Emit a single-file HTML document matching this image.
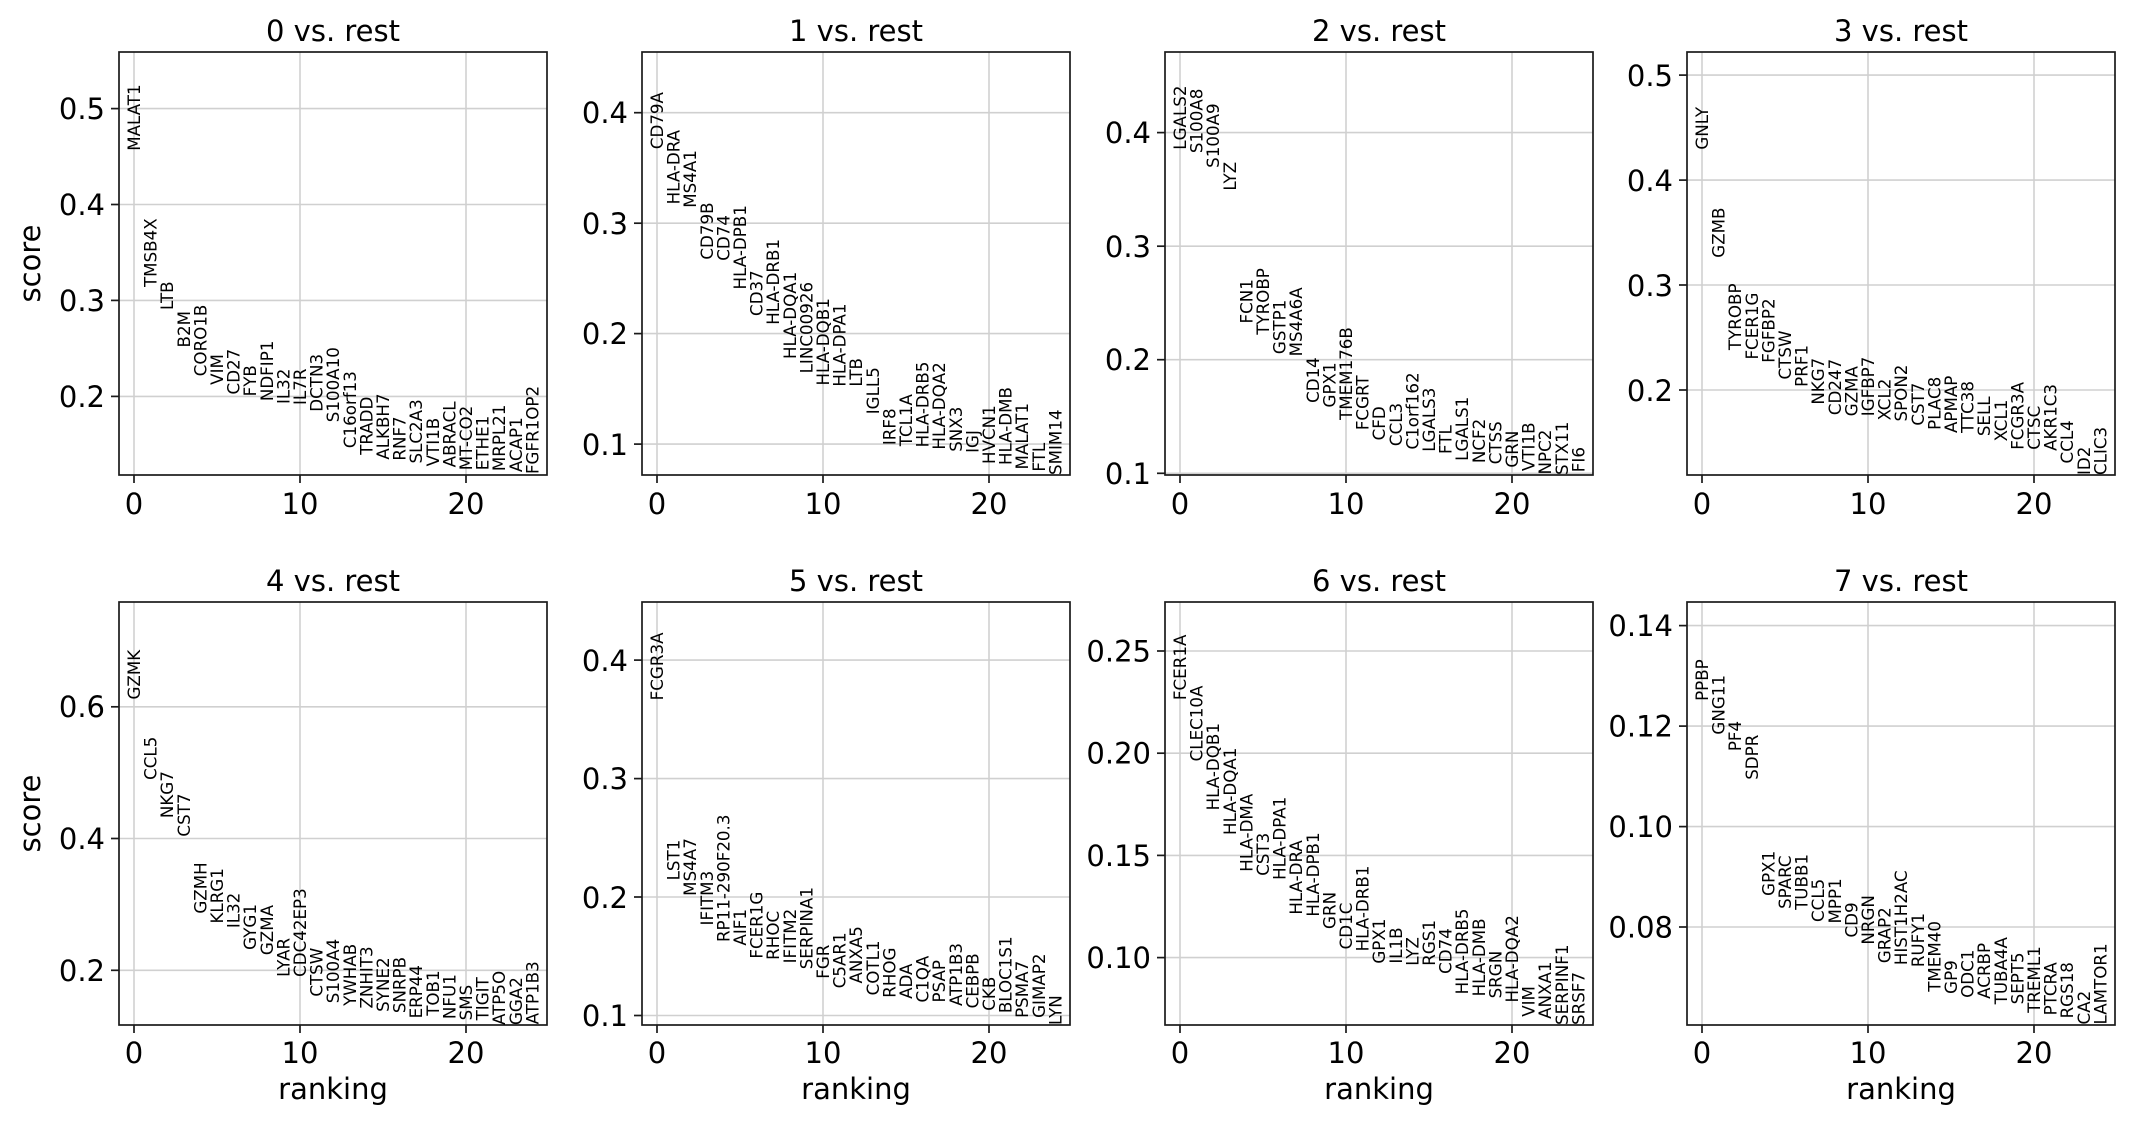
<!DOCTYPE html>
<html><head><meta charset="utf-8"><style>
html,body{margin:0;padding:0;background:#fff}
svg{display:block}
text{font-family:"DejaVu Sans","Liberation Sans",sans-serif;fill:#000}
.g{font-size:16.7px}
.t{font-size:29px}
</style></head><body>
<svg width="2131" height="1123" viewBox="0 0 2131 1123" xmlns="http://www.w3.org/2000/svg">
<defs>
<g id="frame"><rect x="0" y="0" width="428" height="423" fill="none" stroke="#1a1a1a" stroke-width="1.7"/></g>
</defs>

<!-- ===== Panel 0 ===== -->
<g transform="translate(119,52)">
<g stroke="#d0d0d0" stroke-width="1.6">
<line x1="15" y1="0" x2="15" y2="423"/><line x1="181" y1="0" x2="181" y2="423"/><line x1="347" y1="0" x2="347" y2="423"/>
<line x1="0" y1="56.6" x2="428" y2="56.6"/><line x1="0" y1="152.5" x2="428" y2="152.5"/><line x1="0" y1="248.4" x2="428" y2="248.4"/><line x1="0" y1="344.4" x2="428" y2="344.4"/>
</g>
<use href="#frame"/>
<g stroke="#1a1a1a" stroke-width="1.7">
<line x1="15" y1="423" x2="15" y2="431"/><line x1="181" y1="423" x2="181" y2="431"/><line x1="347" y1="423" x2="347" y2="431"/>
<line x1="0" y1="56.6" x2="-8" y2="56.6"/><line x1="0" y1="152.5" x2="-8" y2="152.5"/><line x1="0" y1="248.4" x2="-8" y2="248.4"/><line x1="0" y1="344.4" x2="-8" y2="344.4"/>
</g>
<g class="t" text-anchor="end"><text x="-14" y="67">0.5</text><text x="-14" y="163">0.4</text><text x="-14" y="259">0.3</text><text x="-14" y="355">0.2</text></g>
<g class="t" text-anchor="middle"><text x="15" y="462">0</text><text x="181" y="462">10</text><text x="347" y="462">20</text><text x="214" y="-11">0 vs. rest</text></g>
</g>
<g transform="translate(134,588.2) scale(1,-959.2)" class="g">
<text transform="translate(0,0.456) scale(1,-0.0010425) rotate(-90)" y="6">MALAT1</text>
<text transform="translate(16.6,0.314) scale(1,-0.0010425) rotate(-90)" y="6">TMSB4X</text>
<text transform="translate(33.2,0.290) scale(1,-0.0010425) rotate(-90)" y="6">LTB</text>
<text transform="translate(49.8,0.251) scale(1,-0.0010425) rotate(-90)" y="6">B2M</text>
<text transform="translate(66.4,0.221) scale(1,-0.0010425) rotate(-90)" y="6">CORO1B</text>
<text transform="translate(83,0.212) scale(1,-0.0010425) rotate(-90)" y="6">VIM</text>
<text transform="translate(99.6,0.202) scale(1,-0.0010425) rotate(-90)" y="6">CD27</text>
<text transform="translate(116.2,0.200) scale(1,-0.0010425) rotate(-90)" y="6">FYB</text>
<text transform="translate(132.8,0.195) scale(1,-0.0010425) rotate(-90)" y="6">NDFIP1</text>
<text transform="translate(149.4,0.192) scale(1,-0.0010425) rotate(-90)" y="6">IL32</text>
<text transform="translate(166,0.191) scale(1,-0.0010425) rotate(-90)" y="6">IL7R</text>
<text transform="translate(182.6,0.184) scale(1,-0.0010425) rotate(-90)" y="6">DCTN3</text>
<text transform="translate(199.2,0.173) scale(1,-0.0010425) rotate(-90)" y="6">S100A10</text>
<text transform="translate(215.8,0.146) scale(1,-0.0010425) rotate(-90)" y="6">C16orf13</text>
<text transform="translate(232.4,0.139) scale(1,-0.0010425) rotate(-90)" y="6">TRADD</text>
<text transform="translate(249,0.134) scale(1,-0.0010425) rotate(-90)" y="6">ALKBH7</text>
<text transform="translate(265.6,0.133) scale(1,-0.0010425) rotate(-90)" y="6">RNF7</text>
<text transform="translate(282.2,0.130) scale(1,-0.0010425) rotate(-90)" y="6">SLC2A3</text>
<text transform="translate(298.8,0.127) scale(1,-0.0010425) rotate(-90)" y="6">VTI1B</text>
<text transform="translate(315.4,0.126) scale(1,-0.0010425) rotate(-90)" y="6">ABRACL</text>
<text transform="translate(332,0.123) scale(1,-0.0010425) rotate(-90)" y="6">MT-CO2</text>
<text transform="translate(348.6,0.123) scale(1,-0.0010425) rotate(-90)" y="6">ETHE1</text>
<text transform="translate(365.2,0.122) scale(1,-0.0010425) rotate(-90)" y="6">MRPL21</text>
<text transform="translate(381.8,0.121) scale(1,-0.0010425) rotate(-90)" y="6">ACAP1</text>
<text transform="translate(398.4,0.119) scale(1,-0.0010425) rotate(-90)" y="6">FGFR1OP2</text>
</g>

<!-- ===== Panel 1 ===== -->
<g transform="translate(642,52)">
<g stroke="#d0d0d0" stroke-width="1.6">
<line x1="15" y1="0" x2="15" y2="423"/><line x1="181" y1="0" x2="181" y2="423"/><line x1="347" y1="0" x2="347" y2="423"/>
<line x1="0" y1="60.7" x2="428" y2="60.7"/><line x1="0" y1="171.2" x2="428" y2="171.2"/><line x1="0" y1="281.6" x2="428" y2="281.6"/><line x1="0" y1="392.1" x2="428" y2="392.1"/>
</g>
<use href="#frame"/>
<g stroke="#1a1a1a" stroke-width="1.7">
<line x1="15" y1="423" x2="15" y2="431"/><line x1="181" y1="423" x2="181" y2="431"/><line x1="347" y1="423" x2="347" y2="431"/>
<line x1="0" y1="60.7" x2="-8" y2="60.7"/><line x1="0" y1="171.2" x2="-8" y2="171.2"/><line x1="0" y1="281.6" x2="-8" y2="281.6"/><line x1="0" y1="392.1" x2="-8" y2="392.1"/>
</g>
<g class="t" text-anchor="end"><text x="-14" y="71">0.4</text><text x="-14" y="182">0.3</text><text x="-14" y="292">0.2</text><text x="-14" y="403">0.1</text></g>
<g class="t" text-anchor="middle"><text x="15" y="462">0</text><text x="181" y="462">10</text><text x="347" y="462">20</text><text x="214" y="-11">1 vs. rest</text></g>
</g>
<g transform="translate(657,554.5) scale(1,-1104.4)" class="g">
<text transform="translate(0,0.367) scale(1,-0.0009054) rotate(-90)" y="6">CD79A</text>
<text transform="translate(16.6,0.317) scale(1,-0.0009054) rotate(-90)" y="6">HLA-DRA</text>
<text transform="translate(33.2,0.314) scale(1,-0.0009054) rotate(-90)" y="6">MS4A1</text>
<text transform="translate(49.8,0.267) scale(1,-0.0009054) rotate(-90)" y="6">CD79B</text>
<text transform="translate(66.4,0.266) scale(1,-0.0009054) rotate(-90)" y="6">CD74</text>
<text transform="translate(83,0.240) scale(1,-0.0009054) rotate(-90)" y="6">HLA-DPB1</text>
<text transform="translate(99.6,0.216) scale(1,-0.0009054) rotate(-90)" y="6">CD37</text>
<text transform="translate(116.2,0.208) scale(1,-0.0009054) rotate(-90)" y="6">HLA-DRB1</text>
<text transform="translate(132.8,0.177) scale(1,-0.0009054) rotate(-90)" y="6">HLA-DQA1</text>
<text transform="translate(149.4,0.164) scale(1,-0.0009054) rotate(-90)" y="6">LINC00926</text>
<text transform="translate(166,0.153) scale(1,-0.0009054) rotate(-90)" y="6">HLA-DQB1</text>
<text transform="translate(182.6,0.152) scale(1,-0.0009054) rotate(-90)" y="6">HLA-DPA1</text>
<text transform="translate(199.2,0.152) scale(1,-0.0009054) rotate(-90)" y="6">LTB</text>
<text transform="translate(215.8,0.127) scale(1,-0.0009054) rotate(-90)" y="6">IGLL5</text>
<text transform="translate(232.4,0.099) scale(1,-0.0009054) rotate(-90)" y="6">IRF8</text>
<text transform="translate(249,0.098) scale(1,-0.0009054) rotate(-90)" y="6">TCL1A</text>
<text transform="translate(265.6,0.097) scale(1,-0.0009054) rotate(-90)" y="6">HLA-DRB5</text>
<text transform="translate(282.2,0.095) scale(1,-0.0009054) rotate(-90)" y="6">HLA-DQA2</text>
<text transform="translate(298.8,0.093) scale(1,-0.0009054) rotate(-90)" y="6">SNX3</text>
<text transform="translate(315.4,0.092) scale(1,-0.0009054) rotate(-90)" y="6">IGJ</text>
<text transform="translate(332,0.082) scale(1,-0.0009054) rotate(-90)" y="6">HVCN1</text>
<text transform="translate(348.6,0.081) scale(1,-0.0009054) rotate(-90)" y="6">HLA-DMB</text>
<text transform="translate(365.2,0.077) scale(1,-0.0009054) rotate(-90)" y="6">MALAT1</text>
<text transform="translate(381.8,0.075) scale(1,-0.0009054) rotate(-90)" y="6">FTL</text>
<text transform="translate(398.4,0.072) scale(1,-0.0009054) rotate(-90)" y="6">SMIM14</text>
</g>

<!-- ===== Panel 2 ===== -->
<g transform="translate(1165,52)">
<g stroke="#d0d0d0" stroke-width="1.6">
<line x1="15" y1="0" x2="15" y2="423"/><line x1="181" y1="0" x2="181" y2="423"/><line x1="347" y1="0" x2="347" y2="423"/>
<line x1="0" y1="80.6" x2="428" y2="80.6"/><line x1="0" y1="194.2" x2="428" y2="194.2"/><line x1="0" y1="307.7" x2="428" y2="307.7"/><line x1="0" y1="421.3" x2="428" y2="421.3"/>
</g>
<use href="#frame"/>
<g stroke="#1a1a1a" stroke-width="1.7">
<line x1="15" y1="423" x2="15" y2="431"/><line x1="181" y1="423" x2="181" y2="431"/><line x1="347" y1="423" x2="347" y2="431"/>
<line x1="0" y1="80.6" x2="-8" y2="80.6"/><line x1="0" y1="194.2" x2="-8" y2="194.2"/><line x1="0" y1="307.7" x2="-8" y2="307.7"/><line x1="0" y1="421.3" x2="-8" y2="421.3"/>
</g>
<g class="t" text-anchor="end"><text x="-14" y="91">0.4</text><text x="-14" y="205">0.3</text><text x="-14" y="318">0.2</text><text x="-14" y="432">0.1</text></g>
<g class="t" text-anchor="middle"><text x="15" y="462">0</text><text x="181" y="462">10</text><text x="347" y="462">20</text><text x="214" y="-11">2 vs. rest</text></g>
</g>
<g transform="translate(1180,586.9) scale(1,-1135.6)" class="g">
<text transform="translate(0,0.385) scale(1,-0.0008806) rotate(-90)" y="6">LGALS2</text>
<text transform="translate(16.6,0.382) scale(1,-0.0008806) rotate(-90)" y="6">S100A8</text>
<text transform="translate(33.2,0.369) scale(1,-0.0008806) rotate(-90)" y="6">S100A9</text>
<text transform="translate(49.8,0.349) scale(1,-0.0008806) rotate(-90)" y="6">LYZ</text>
<text transform="translate(66.4,0.232) scale(1,-0.0008806) rotate(-90)" y="6">FCN1</text>
<text transform="translate(83,0.222) scale(1,-0.0008806) rotate(-90)" y="6">TYROBP</text>
<text transform="translate(99.6,0.205) scale(1,-0.0008806) rotate(-90)" y="6">GSTP1</text>
<text transform="translate(116.2,0.203) scale(1,-0.0008806) rotate(-90)" y="6">MS4A6A</text>
<text transform="translate(132.8,0.162) scale(1,-0.0008806) rotate(-90)" y="6">CD14</text>
<text transform="translate(149.4,0.158) scale(1,-0.0008806) rotate(-90)" y="6">GPX1</text>
<text transform="translate(166,0.147) scale(1,-0.0008806) rotate(-90)" y="6">TMEM176B</text>
<text transform="translate(182.6,0.138) scale(1,-0.0008806) rotate(-90)" y="6">FCGRT</text>
<text transform="translate(199.2,0.129) scale(1,-0.0008806) rotate(-90)" y="6">CFD</text>
<text transform="translate(215.8,0.124) scale(1,-0.0008806) rotate(-90)" y="6">CCL3</text>
<text transform="translate(232.4,0.121) scale(1,-0.0008806) rotate(-90)" y="6">C1orf162</text>
<text transform="translate(249,0.119) scale(1,-0.0008806) rotate(-90)" y="6">LGALS3</text>
<text transform="translate(265.6,0.117) scale(1,-0.0008806) rotate(-90)" y="6">FTL</text>
<text transform="translate(282.2,0.111) scale(1,-0.0008806) rotate(-90)" y="6">LGALS1</text>
<text transform="translate(298.8,0.109) scale(1,-0.0008806) rotate(-90)" y="6">NCF2</text>
<text transform="translate(315.4,0.108) scale(1,-0.0008806) rotate(-90)" y="6">CTSS</text>
<text transform="translate(332,0.105) scale(1,-0.0008806) rotate(-90)" y="6">GRN</text>
<text transform="translate(348.6,0.102) scale(1,-0.0008806) rotate(-90)" y="6">VTI1B</text>
<text transform="translate(365.2,0.099) scale(1,-0.0008806) rotate(-90)" y="6">NPC2</text>
<text transform="translate(381.8,0.0985) scale(1,-0.0008806) rotate(-90)" y="6">STX11</text>
<text transform="translate(398.4,0.101) scale(1,-0.0008806) rotate(-90)" y="6">FI6</text>
</g>

<!-- ===== Panel 3 ===== -->
<g transform="translate(1687,52)">
<g stroke="#d0d0d0" stroke-width="1.6">
<line x1="15" y1="0" x2="15" y2="423"/><line x1="181" y1="0" x2="181" y2="423"/><line x1="347" y1="0" x2="347" y2="423"/>
<line x1="0" y1="23.1" x2="428" y2="23.1"/><line x1="0" y1="128.1" x2="428" y2="128.1"/><line x1="0" y1="233" x2="428" y2="233"/><line x1="0" y1="338" x2="428" y2="338"/>
</g>
<use href="#frame"/>
<g stroke="#1a1a1a" stroke-width="1.7">
<line x1="15" y1="423" x2="15" y2="431"/><line x1="181" y1="423" x2="181" y2="431"/><line x1="347" y1="423" x2="347" y2="431"/>
<line x1="0" y1="23.1" x2="-8" y2="23.1"/><line x1="0" y1="128.1" x2="-8" y2="128.1"/><line x1="0" y1="233" x2="-8" y2="233"/><line x1="0" y1="338" x2="-8" y2="338"/>
</g>
<g class="t" text-anchor="end"><text x="-14" y="34">0.5</text><text x="-14" y="139">0.4</text><text x="-14" y="244">0.3</text><text x="-14" y="349">0.2</text></g>
<g class="t" text-anchor="middle"><text x="15" y="462">0</text><text x="181" y="462">10</text><text x="347" y="462">20</text><text x="214" y="-11">3 vs. rest</text></g>
</g>
<g transform="translate(1702,599.9) scale(1,-1049.6)" class="g">
<text transform="translate(0,0.429) scale(1,-0.0009527) rotate(-90)" y="6">GNLY</text>
<text transform="translate(16.6,0.326) scale(1,-0.0009527) rotate(-90)" y="6">GZMB</text>
<text transform="translate(33.2,0.238) scale(1,-0.0009527) rotate(-90)" y="6">TYROBP</text>
<text transform="translate(49.8,0.229) scale(1,-0.0009527) rotate(-90)" y="6">FCER1G</text>
<text transform="translate(66.4,0.226) scale(1,-0.0009527) rotate(-90)" y="6">FGFBP2</text>
<text transform="translate(83,0.210) scale(1,-0.0009527) rotate(-90)" y="6">CTSW</text>
<text transform="translate(99.6,0.203) scale(1,-0.0009527) rotate(-90)" y="6">PRF1</text>
<text transform="translate(116.2,0.186) scale(1,-0.0009527) rotate(-90)" y="6">NKG7</text>
<text transform="translate(132.8,0.176) scale(1,-0.0009527) rotate(-90)" y="6">CD247</text>
<text transform="translate(149.4,0.175) scale(1,-0.0009527) rotate(-90)" y="6">GZMA</text>
<text transform="translate(166,0.175) scale(1,-0.0009527) rotate(-90)" y="6">IGFBP7</text>
<text transform="translate(182.6,0.171) scale(1,-0.0009527) rotate(-90)" y="6">XCL2</text>
<text transform="translate(199.2,0.170) scale(1,-0.0009527) rotate(-90)" y="6">SPON2</text>
<text transform="translate(215.8,0.166) scale(1,-0.0009527) rotate(-90)" y="6">CST7</text>
<text transform="translate(232.4,0.162) scale(1,-0.0009527) rotate(-90)" y="6">PLAC8</text>
<text transform="translate(249,0.159) scale(1,-0.0009527) rotate(-90)" y="6">APMAP</text>
<text transform="translate(265.6,0.159) scale(1,-0.0009527) rotate(-90)" y="6">TTC38</text>
<text transform="translate(282.2,0.156) scale(1,-0.0009527) rotate(-90)" y="6">SELL</text>
<text transform="translate(298.8,0.151) scale(1,-0.0009527) rotate(-90)" y="6">XCL1</text>
<text transform="translate(315.4,0.143) scale(1,-0.0009527) rotate(-90)" y="6">FCGR3A</text>
<text transform="translate(332,0.143) scale(1,-0.0009527) rotate(-90)" y="6">CTSC</text>
<text transform="translate(348.6,0.142) scale(1,-0.0009527) rotate(-90)" y="6">AKR1C3</text>
<text transform="translate(365.2,0.130) scale(1,-0.0009527) rotate(-90)" y="6">CCL4</text>
<text transform="translate(381.8,0.119) scale(1,-0.0009527) rotate(-90)" y="6">ID2</text>
<text transform="translate(398.4,0.119) scale(1,-0.0009527) rotate(-90)" y="6">CLIC3</text>
</g>

<!-- ===== Panel 4 ===== -->
<g transform="translate(119,602)">
<g stroke="#d0d0d0" stroke-width="1.6">
<line x1="15" y1="0" x2="15" y2="423"/><line x1="181" y1="0" x2="181" y2="423"/><line x1="347" y1="0" x2="347" y2="423"/>
<line x1="0" y1="104.8" x2="428" y2="104.8"/><line x1="0" y1="236.5" x2="428" y2="236.5"/><line x1="0" y1="368.3" x2="428" y2="368.3"/>
</g>
<use href="#frame"/>
<g stroke="#1a1a1a" stroke-width="1.7">
<line x1="15" y1="423" x2="15" y2="431"/><line x1="181" y1="423" x2="181" y2="431"/><line x1="347" y1="423" x2="347" y2="431"/>
<line x1="0" y1="104.8" x2="-8" y2="104.8"/><line x1="0" y1="236.5" x2="-8" y2="236.5"/><line x1="0" y1="368.3" x2="-8" y2="368.3"/>
</g>
<g class="t" text-anchor="end"><text x="-14" y="115">0.6</text><text x="-14" y="247">0.4</text><text x="-14" y="379">0.2</text></g>
<g class="t" text-anchor="middle"><text x="15" y="461">0</text><text x="181" y="461">10</text><text x="347" y="461">20</text><text x="214" y="-11">4 vs. rest</text><text x="214" y="497">ranking</text></g>
</g>
<g transform="translate(134,1102.1) scale(1,-658.9)" class="g">
<text transform="translate(0,0.611) scale(1,-0.0015177) rotate(-90)" y="6">GZMK</text>
<text transform="translate(16.6,0.489) scale(1,-0.0015177) rotate(-90)" y="6">CCL5</text>
<text transform="translate(33.2,0.431) scale(1,-0.0015177) rotate(-90)" y="6">NKG7</text>
<text transform="translate(49.8,0.403) scale(1,-0.0015177) rotate(-90)" y="6">CST7</text>
<text transform="translate(66.4,0.286) scale(1,-0.0015177) rotate(-90)" y="6">GZMH</text>
<text transform="translate(83,0.271) scale(1,-0.0015177) rotate(-90)" y="6">KLRG1</text>
<text transform="translate(99.6,0.264) scale(1,-0.0015177) rotate(-90)" y="6">IL32</text>
<text transform="translate(116.2,0.231) scale(1,-0.0015177) rotate(-90)" y="6">GYG1</text>
<text transform="translate(132.8,0.223) scale(1,-0.0015177) rotate(-90)" y="6">GZMA</text>
<text transform="translate(149.4,0.190) scale(1,-0.0015177) rotate(-90)" y="6">LYAR</text>
<text transform="translate(166,0.190) scale(1,-0.0015177) rotate(-90)" y="6">CDC42EP3</text>
<text transform="translate(182.6,0.160) scale(1,-0.0015177) rotate(-90)" y="6">CTSW</text>
<text transform="translate(199.2,0.150) scale(1,-0.0015177) rotate(-90)" y="6">S100A4</text>
<text transform="translate(215.8,0.146) scale(1,-0.0015177) rotate(-90)" y="6">YWHAB</text>
<text transform="translate(232.4,0.142) scale(1,-0.0015177) rotate(-90)" y="6">ZNHIT3</text>
<text transform="translate(249,0.137) scale(1,-0.0015177) rotate(-90)" y="6">SYNE2</text>
<text transform="translate(265.6,0.135) scale(1,-0.0015177) rotate(-90)" y="6">SNRPB</text>
<text transform="translate(282.2,0.127) scale(1,-0.0015177) rotate(-90)" y="6">ERP44</text>
<text transform="translate(298.8,0.131) scale(1,-0.0015177) rotate(-90)" y="6">TOB1</text>
<text transform="translate(315.4,0.126) scale(1,-0.0015177) rotate(-90)" y="6">NFU1</text>
<text transform="translate(332,0.124) scale(1,-0.0015177) rotate(-90)" y="6">SMS</text>
<text transform="translate(348.6,0.124) scale(1,-0.0015177) rotate(-90)" y="6">TIGIT</text>
<text transform="translate(365.2,0.117) scale(1,-0.0015177) rotate(-90)" y="6">ATP5O</text>
<text transform="translate(381.8,0.117) scale(1,-0.0015177) rotate(-90)" y="6">GGA2</text>
<text transform="translate(398.4,0.118) scale(1,-0.0015177) rotate(-90)" y="6">ATP1B3</text>
</g>

<!-- ===== Panel 5 ===== -->
<g transform="translate(642,602)">
<g stroke="#d0d0d0" stroke-width="1.6">
<line x1="15" y1="0" x2="15" y2="423"/><line x1="181" y1="0" x2="181" y2="423"/><line x1="347" y1="0" x2="347" y2="423"/>
<line x1="0" y1="58.1" x2="428" y2="58.1"/><line x1="0" y1="176.6" x2="428" y2="176.6"/><line x1="0" y1="295" x2="428" y2="295"/><line x1="0" y1="413.5" x2="428" y2="413.5"/>
</g>
<use href="#frame"/>
<g stroke="#1a1a1a" stroke-width="1.7">
<line x1="15" y1="423" x2="15" y2="431"/><line x1="181" y1="423" x2="181" y2="431"/><line x1="347" y1="423" x2="347" y2="431"/>
<line x1="0" y1="58.1" x2="-8" y2="58.1"/><line x1="0" y1="176.6" x2="-8" y2="176.6"/><line x1="0" y1="295" x2="-8" y2="295"/><line x1="0" y1="413.5" x2="-8" y2="413.5"/>
</g>
<g class="t" text-anchor="end"><text x="-14" y="69">0.4</text><text x="-14" y="187">0.3</text><text x="-14" y="306">0.2</text><text x="-14" y="424">0.1</text></g>
<g class="t" text-anchor="middle"><text x="15" y="461">0</text><text x="181" y="461">10</text><text x="347" y="461">20</text><text x="214" y="-11">5 vs. rest</text><text x="214" y="497">ranking</text></g>
</g>
<g transform="translate(657,1134) scale(1,-1184.9)" class="g">
<text transform="translate(0,0.366) scale(1,-0.000844) rotate(-90)" y="6">FCGR3A</text>
<text transform="translate(16.6,0.214) scale(1,-0.000844) rotate(-90)" y="6">LST1</text>
<text transform="translate(33.2,0.201) scale(1,-0.000844) rotate(-90)" y="6">MS4A7</text>
<text transform="translate(49.8,0.176) scale(1,-0.000844) rotate(-90)" y="6">IFITM3</text>
<text transform="translate(66.4,0.162) scale(1,-0.000844) rotate(-90)" y="6">RP11-290F20.3</text>
<text transform="translate(83,0.159) scale(1,-0.000844) rotate(-90)" y="6">AIF1</text>
<text transform="translate(99.6,0.148) scale(1,-0.000844) rotate(-90)" y="6">FCER1G</text>
<text transform="translate(116.2,0.147) scale(1,-0.000844) rotate(-90)" y="6">RHOC</text>
<text transform="translate(132.8,0.144) scale(1,-0.000844) rotate(-90)" y="6">IFITM2</text>
<text transform="translate(149.4,0.139) scale(1,-0.000844) rotate(-90)" y="6">SERPINA1</text>
<text transform="translate(166,0.131) scale(1,-0.000844) rotate(-90)" y="6">FGR</text>
<text transform="translate(182.6,0.123) scale(1,-0.000844) rotate(-90)" y="6">C5AR1</text>
<text transform="translate(199.2,0.127) scale(1,-0.000844) rotate(-90)" y="6">ANXA5</text>
<text transform="translate(215.8,0.117) scale(1,-0.000844) rotate(-90)" y="6">COTL1</text>
<text transform="translate(232.4,0.115) scale(1,-0.000844) rotate(-90)" y="6">RHOG</text>
<text transform="translate(249,0.114) scale(1,-0.000844) rotate(-90)" y="6">ADA</text>
<text transform="translate(265.6,0.111) scale(1,-0.000844) rotate(-90)" y="6">C1QA</text>
<text transform="translate(282.2,0.111) scale(1,-0.000844) rotate(-90)" y="6">PSAP</text>
<text transform="translate(298.8,0.108) scale(1,-0.000844) rotate(-90)" y="6">ATP1B3</text>
<text transform="translate(315.4,0.106) scale(1,-0.000844) rotate(-90)" y="6">CEBPB</text>
<text transform="translate(332,0.104) scale(1,-0.000844) rotate(-90)" y="6">CKB</text>
<text transform="translate(348.6,0.102) scale(1,-0.000844) rotate(-90)" y="6">BLOC1S1</text>
<text transform="translate(365.2,0.098) scale(1,-0.000844) rotate(-90)" y="6">PSMA7</text>
<text transform="translate(381.8,0.098) scale(1,-0.000844) rotate(-90)" y="6">GIMAP2</text>
<text transform="translate(398.4,0.092) scale(1,-0.000844) rotate(-90)" y="6">LYN</text>
</g>

<!-- ===== Panel 6 ===== -->
<g transform="translate(1165,602)">
<g stroke="#d0d0d0" stroke-width="1.6">
<line x1="15" y1="0" x2="15" y2="423"/><line x1="181" y1="0" x2="181" y2="423"/><line x1="347" y1="0" x2="347" y2="423"/>
<line x1="0" y1="49" x2="428" y2="49"/><line x1="0" y1="151.2" x2="428" y2="151.2"/><line x1="0" y1="253.4" x2="428" y2="253.4"/><line x1="0" y1="355.6" x2="428" y2="355.6"/>
</g>
<use href="#frame"/>
<g stroke="#1a1a1a" stroke-width="1.7">
<line x1="15" y1="423" x2="15" y2="431"/><line x1="181" y1="423" x2="181" y2="431"/><line x1="347" y1="423" x2="347" y2="431"/>
<line x1="0" y1="49" x2="-8" y2="49"/><line x1="0" y1="151.2" x2="-8" y2="151.2"/><line x1="0" y1="253.4" x2="-8" y2="253.4"/><line x1="0" y1="355.6" x2="-8" y2="355.6"/>
</g>
<g class="t" text-anchor="end"><text x="-14" y="59.5">0.25</text><text x="-14" y="161.7">0.20</text><text x="-14" y="264">0.15</text><text x="-14" y="366">0.10</text></g>
<g class="t" text-anchor="middle"><text x="15" y="461">0</text><text x="181" y="461">10</text><text x="347" y="461">20</text><text x="214" y="-11">6 vs. rest</text><text x="214" y="497">ranking</text></g>
</g>
<g transform="translate(1180,1161.9) scale(1,-2043.5)" class="g">
<text transform="translate(0,0.226) scale(1,-0.0004894) rotate(-90)" y="6">FCER1A</text>
<text transform="translate(16.6,0.196) scale(1,-0.0004894) rotate(-90)" y="6">CLEC10A</text>
<text transform="translate(33.2,0.172) scale(1,-0.0004894) rotate(-90)" y="6">HLA-DQB1</text>
<text transform="translate(49.8,0.160) scale(1,-0.0004894) rotate(-90)" y="6">HLA-DQA1</text>
<text transform="translate(66.4,0.142) scale(1,-0.0004894) rotate(-90)" y="6">HLA-DMA</text>
<text transform="translate(83,0.140) scale(1,-0.0004894) rotate(-90)" y="6">CST3</text>
<text transform="translate(99.6,0.138) scale(1,-0.0004894) rotate(-90)" y="6">HLA-DPA1</text>
<text transform="translate(116.2,0.121) scale(1,-0.0004894) rotate(-90)" y="6">HLA-DRA</text>
<text transform="translate(132.8,0.120) scale(1,-0.0004894) rotate(-90)" y="6">HLA-DPB1</text>
<text transform="translate(149.4,0.114) scale(1,-0.0004894) rotate(-90)" y="6">GRN</text>
<text transform="translate(166,0.104) scale(1,-0.0004894) rotate(-90)" y="6">CD1C</text>
<text transform="translate(182.6,0.103) scale(1,-0.0004894) rotate(-90)" y="6">HLA-DRB1</text>
<text transform="translate(199.2,0.097) scale(1,-0.0004894) rotate(-90)" y="6">GPX1</text>
<text transform="translate(215.8,0.097) scale(1,-0.0004894) rotate(-90)" y="6">IL1B</text>
<text transform="translate(232.4,0.096) scale(1,-0.0004894) rotate(-90)" y="6">LYZ</text>
<text transform="translate(249,0.096) scale(1,-0.0004894) rotate(-90)" y="6">RGS1</text>
<text transform="translate(265.6,0.092) scale(1,-0.0004894) rotate(-90)" y="6">CD74</text>
<text transform="translate(282.2,0.082) scale(1,-0.0004894) rotate(-90)" y="6">HLA-DRB5</text>
<text transform="translate(298.8,0.081) scale(1,-0.0004894) rotate(-90)" y="6">HLA-DMB</text>
<text transform="translate(315.4,0.080) scale(1,-0.0004894) rotate(-90)" y="6">SRGN</text>
<text transform="translate(332,0.078) scale(1,-0.0004894) rotate(-90)" y="6">HLA-DQA2</text>
<text transform="translate(348.6,0.071) scale(1,-0.0004894) rotate(-90)" y="6">VIM</text>
<text transform="translate(365.2,0.070) scale(1,-0.0004894) rotate(-90)" y="6">ANXA1</text>
<text transform="translate(381.8,0.067) scale(1,-0.0004894) rotate(-90)" y="6">SERPINF1</text>
<text transform="translate(398.4,0.067) scale(1,-0.0004894) rotate(-90)" y="6">SRSF7</text>
</g>

<!-- ===== Panel 7 ===== -->
<g transform="translate(1687,602)">
<g stroke="#d0d0d0" stroke-width="1.6">
<line x1="15" y1="0" x2="15" y2="423"/><line x1="181" y1="0" x2="181" y2="423"/><line x1="347" y1="0" x2="347" y2="423"/>
<line x1="0" y1="23.6" x2="428" y2="23.6"/><line x1="0" y1="124.1" x2="428" y2="124.1"/><line x1="0" y1="224.6" x2="428" y2="224.6"/><line x1="0" y1="325" x2="428" y2="325"/>
</g>
<use href="#frame"/>
<g stroke="#1a1a1a" stroke-width="1.7">
<line x1="15" y1="423" x2="15" y2="431"/><line x1="181" y1="423" x2="181" y2="431"/><line x1="347" y1="423" x2="347" y2="431"/>
<line x1="0" y1="23.6" x2="-8" y2="23.6"/><line x1="0" y1="124.1" x2="-8" y2="124.1"/><line x1="0" y1="224.6" x2="-8" y2="224.6"/><line x1="0" y1="325" x2="-8" y2="325"/>
</g>
<g class="t" text-anchor="end"><text x="-14" y="34">0.14</text><text x="-14" y="134.6">0.12</text><text x="-14" y="235">0.10</text><text x="-14" y="335.5">0.08</text></g>
<g class="t" text-anchor="middle"><text x="15" y="461">0</text><text x="181" y="461">10</text><text x="347" y="461">20</text><text x="214" y="-11">7 vs. rest</text><text x="214" y="497">ranking</text></g>
</g>
<g transform="translate(1702,1328.9) scale(1,-5023.8)" class="g">
<text transform="translate(0,0.125) scale(1,-0.00019905) rotate(-90)" y="6">PPBP</text>
<text transform="translate(16.6,0.1183) scale(1,-0.00019905) rotate(-90)" y="6">GNG11</text>
<text transform="translate(33.2,0.115) scale(1,-0.00019905) rotate(-90)" y="6">PF4</text>
<text transform="translate(49.8,0.1093) scale(1,-0.00019905) rotate(-90)" y="6">SDPR</text>
<text transform="translate(66.4,0.0862) scale(1,-0.00019905) rotate(-90)" y="6">GPX1</text>
<text transform="translate(83,0.0836) scale(1,-0.00019905) rotate(-90)" y="6">SPARC</text>
<text transform="translate(99.6,0.0834) scale(1,-0.00019905) rotate(-90)" y="6">TUBB1</text>
<text transform="translate(116.2,0.0810) scale(1,-0.00019905) rotate(-90)" y="6">CCL5</text>
<text transform="translate(132.8,0.0807) scale(1,-0.00019905) rotate(-90)" y="6">MPP1</text>
<text transform="translate(149.4,0.0779) scale(1,-0.00019905) rotate(-90)" y="6">CD9</text>
<text transform="translate(166,0.0765) scale(1,-0.00019905) rotate(-90)" y="6">NRGN</text>
<text transform="translate(182.6,0.0728) scale(1,-0.00019905) rotate(-90)" y="6">GRAP2</text>
<text transform="translate(199.2,0.0724) scale(1,-0.00019905) rotate(-90)" y="6">HIST1H2AC</text>
<text transform="translate(215.8,0.0720) scale(1,-0.00019905) rotate(-90)" y="6">RUFY1</text>
<text transform="translate(232.4,0.0671) scale(1,-0.00019905) rotate(-90)" y="6">TMEM40</text>
<text transform="translate(249,0.0667) scale(1,-0.00019905) rotate(-90)" y="6">GP9</text>
<text transform="translate(265.6,0.0659) scale(1,-0.00019905) rotate(-90)" y="6">ODC1</text>
<text transform="translate(282.2,0.0657) scale(1,-0.00019905) rotate(-90)" y="6">ACRBP</text>
<text transform="translate(298.8,0.0646) scale(1,-0.00019905) rotate(-90)" y="6">TUBA4A</text>
<text transform="translate(315.4,0.0646) scale(1,-0.00019905) rotate(-90)" y="6">SEPT5</text>
<text transform="translate(332,0.0629) scale(1,-0.00019905) rotate(-90)" y="6">TREML1</text>
<text transform="translate(348.6,0.0624) scale(1,-0.00019905) rotate(-90)" y="6">PTCRA</text>
<text transform="translate(365.2,0.0618) scale(1,-0.00019905) rotate(-90)" y="6">RGS18</text>
<text transform="translate(381.8,0.0606) scale(1,-0.00019905) rotate(-90)" y="6">CA2</text>
<text transform="translate(398.4,0.0606) scale(1,-0.00019905) rotate(-90)" y="6">LAMTOR1</text>
</g>

<!-- y axis labels -->
<text class="t" text-anchor="middle" transform="translate(40,263.5) rotate(-90)">score</text>
<text class="t" text-anchor="middle" transform="translate(40,813.5) rotate(-90)">score</text>
</svg>
</body></html>
